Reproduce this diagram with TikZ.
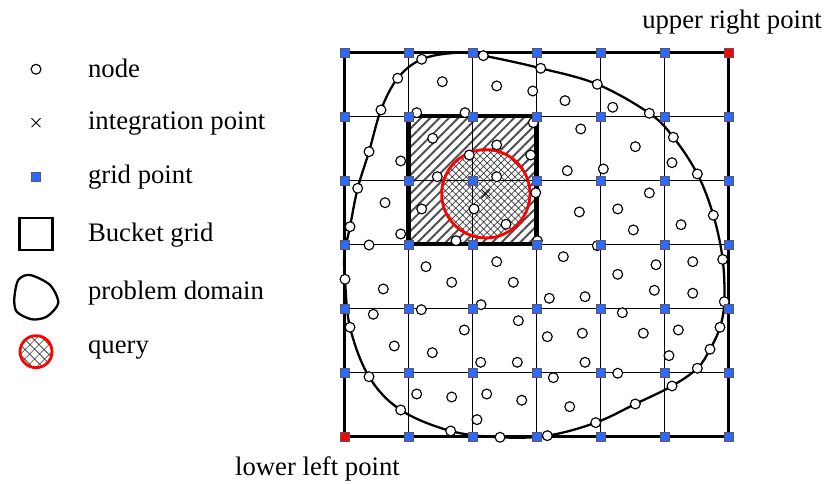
\documentclass[tikz,border=0pt]{standalone}
\usepackage{fontspec}
\setmainfont{Liberation Serif}
\usepackage{xcolor}
\usepackage{tikz}
\usetikzlibrary{patterns.meta,positioning,calc}
\definecolor{gpblue}{RGB}{46,104,255}
\tikzset{
  bgnode/.style={circle, draw=black, fill=white, line width=0.65pt, minimum size=5.6pt, inner sep=0pt},
  bggridpt/.style={rectangle, draw=black!65, fill=gpblue, line width=0.4pt, minimum size=5pt, inner sep=0pt},
  bgcorner/.style={bggridpt, fill=red},
  bggrid/.style={line width=0.9pt},
  bgframe/.style={line width=1.3pt},
  bgbucket/.style={line width=2.3pt},
  bghatch/.style={pattern={Lines[angle=45,distance=3.75pt,line width=1.1pt]}, pattern color=black!70},
  bgcross/.style={pattern={Hatch[angle=45,distance=2.8pt,line width=0.4pt]}, pattern color=black!75},
  bgdomain/.style={line width=1.3pt},
  bgquery/.style={draw=red, line width=1.6pt},
  bglabel/.style={font=\fontsize{15.2}{18}\selectfont, inner sep=0pt}
}
\begin{document}
\begin{tikzpicture}[x=1.28cm,y=1.28cm]
\useasboundingbox (-5.383,-0.727) rectangle (7.539,6.820);

% bucket (hatched) and query region
\fill[bghatch] (1,3) rectangle (3,5);
\coordinate (ip) at (2.208,3.792);
\fill[white] (ip) circle (0.69);
\fill[bgcross] (ip) circle (0.69);

% background grid
\foreach \i in {1,...,5} {
  \draw[bggrid] (\i,0) -- (\i,6);
  \draw[bggrid] (0,\i) -- (6,\i);
}
\draw[bgframe] (0,0) rectangle (6,6);
\draw[bgbucket] (1,3) rectangle (3,5);

% problem domain with its boundary nodes
\foreach \x/\y [count=\k] in {1.206/5.894,2.169/5.95,3.066/5.753,3.95/5.503,
    4.763/5.05,5.138/4.675,5.513/4.102,5.763/3.456,5.909/2.766,5.934/2.106,
    5.867/1.706,5.711/1.363,5.513/1.066,5.117/0.789,4.544/0.508,3.925/0.216,
    3.169/0.0125,2.43/-0.0125,1.659/0.086,0.878/0.414,0.383/0.934,0.086/1.706,
    0.008/2.456,0.086/3.278,0.206/3.878,0.383/4.45,0.570/5.102,0.831/5.597}
  \coordinate (b\k) at (\x,\y);
\coordinate (btop) at (1.75,5.995);
\coordinate (bleft) at (0.0,2.85);
\draw[bgdomain] plot[smooth cycle, tension=0.6] coordinates {(b1) (btop) (b2) (b3) (b4) (b5) (b6)
  (b7) (b8) (b9) (b10) (b11) (b12) (b13) (b14) (b15) (b16) (b17) (b18) (b19) (b20)
  (b21) (b22) (b23) (bleft) (b24) (b25) (b26) (b27) (b28)};

\draw[bgquery] (ip) circle (0.69);

% nodes
\foreach \k in {1,...,28}
  \node[bgnode] (bn\k) at (b\k) {};
\foreach \x/\y [count=\k] in {1.528/5.544,2.378/5.477,2.941/5.398,3.445/5.247,1.128/5.059,
    1.883/5.059,2.95/4.903,3.691/4.805,1.378/4.659,2.378/4.555,1.95/4.398,
    2.909/4.398,0.878/4.305,3.481/4.153,1.45/4.059,2.378/4.059,0.633/3.653,
    2.988/3.809,1.206/3.555,2.023/3.555,3.669/3.508,2.523/3.316,0.878/3.164,
    1.742/3.059,3.013/3.059,0.383/2.992,4.191/5.144,4.544/4.528,5.117/4.278,
    4.044/4.18,4.763/3.805,4.269/3.555,4.513/3.227,5.258/3.309,3.95/2.981,
    1.273/2.653,2.378/2.731,3.419/2.809,0.606/2.305,1.675/2.409,2.638/2.409,
    3.2/2.159,3.758/2.184,0.45/1.909,1.2/1.981,2.133/2.059,2.716/1.809,
    1.872/1.664,3.169/1.559,3.716/1.613,0.778/1.414,1.372/1.309,2.128/1.159,
    2.7/1.159,3.758/1.159,3.263/0.919,1.128/0.664,1.675/0.617,2.222/0.664,
    2.769/0.566,3.519/0.466,2.07/0.263,4.867/2.684,5.441/2.731,4.269/2.534,
    4.841/2.284,5.441/2.238,4.341/1.934,4.669/1.613,5.216/1.664,5.07/1.263,
    4.269/0.988}
  \node[bgnode] (in\k) at (\x,\y) {};

% grid points
\foreach \i in {0,...,6}
  \foreach \j in {0,...,6}
    \node[bggridpt] (g\i\j) at (\i,\j) {};
\node[bgcorner] (ll) at (0,0) {};
\node[bgcorner] (ur) at (6,6) {};

% integration point
\draw[line width=0.5pt] ($(ip)+(-0.07,-0.07)$) -- ($(ip)+(0.07,0.07)$)
  ($(ip)+(-0.07,0.07)$) -- ($(ip)+(0.07,-0.07)$);

\node[bglabel, anchor=base] (urlabel) at (6.055,6.378) {upper right point};
\node[bglabel, anchor=base] (lllabel) at (-0.422,-0.602) {lower left point};

% legend
\node[bgnode] (lgnode) at (-4.82,5.738) {};
\draw[line width=0.5pt] (-4.89,4.833) -- (-4.75,4.973) (-4.89,4.973) -- (-4.75,4.833);
\node[bggridpt] (lggrid) at (-4.82,4.059) {};
\draw[line width=1.5pt] (-5.075,2.914) rectangle (-4.565,3.414);
\draw[bgdomain] plot[smooth cycle] coordinates {(-5.097,2.445) (-4.914,2.523) (-4.602,2.367)
  (-4.472,2.086) (-4.653,1.872) (-4.888,1.831) (-5.122,1.95) (-5.159,2.159)};
\fill[white] (-4.82,1.325) circle (0.25);
\fill[pattern={Hatch[angle=45,distance=4pt,line width=0.4pt]}, pattern color=black!75] (-4.82,1.325) circle (0.25);
\draw[bgquery] (-4.82,1.325) circle (0.25);

\node[bglabel, anchor=base west] (lt1) at (-4.0125,5.613) {node};
\node[bglabel, anchor=base west] (lt2) at (-4.0125,4.789) {integration point};
\node[bglabel, anchor=base west] (lt3) at (-4.0125,3.956) {grid point};
\node[bglabel, anchor=base west] (lt4) at (-4.0125,3.044) {Bucket grid};
\node[bglabel, anchor=base west] (lt5) at (-4.0125,2.144) {problem domain};
\node[bglabel, anchor=base west] (lt6) at (-4.0125,1.300) {query};
\end{tikzpicture}
\end{document}
